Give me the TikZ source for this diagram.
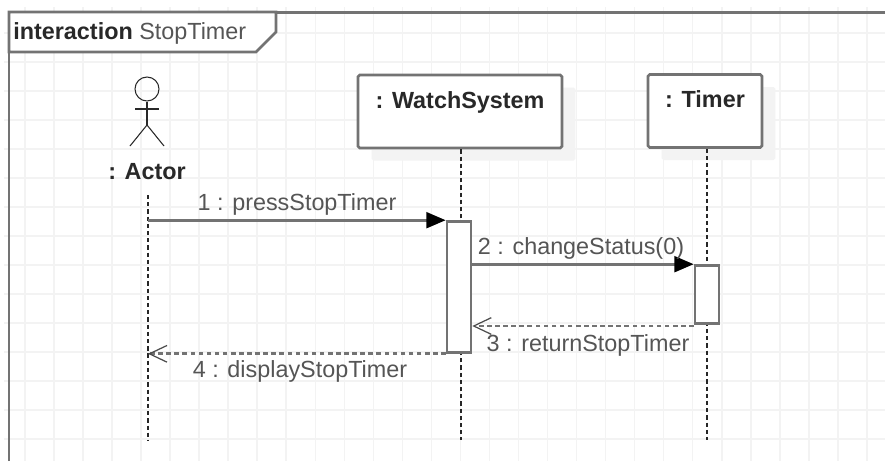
\documentclass[tikz,border=0pt]{standalone}
\usepackage{xcolor}
\usepackage{fontspec}
\setmainfont{Liberation Sans}
\definecolor{framegray}{RGB}{115, 115, 115}
\definecolor{gridgray}{RGB}{243, 243, 243}
\definecolor{shadowgray}{RGB}{243, 243, 243}
\definecolor{msggray}{RGB}{85, 85, 85}
\definecolor{titledark}{RGB}{40, 40, 40}
\usetikzlibrary{arrows.meta, positioning, shadows}

\begin{document}
\begin{tikzpicture}[
    x=0.02cm, y=-0.02cm,
    lifebox/.style={rectangle, draw=framegray, line width=1.5pt, fill=white, rounded corners=1pt, minimum height=1.46cm, align=center, font=\fontsize{13.3}{16}\selectfont\bfseries, text=titledark, general shadow={shadow xshift=0.27cm, shadow yshift=-0.25cm, fill=shadowgray}},
    actbar/.style={rectangle, draw=framegray, line width=1.5pt, fill=white, minimum width=0.48cm, inner sep=0pt},
    lifeline/.style={draw=black!85, line width=0.75pt, dash pattern=on 2.4pt off 1.7pt},
    callmsg/.style={draw=framegray, line width=1.5pt, -{Triangle[black, length=11pt, width=9pt]}},
    replymsg/.style={draw=framegray, line width=1.5pt, dash pattern=on 2.6pt off 2pt, -{Straight Barb[black!70, length=10pt, width=9.5pt, line width=0.7pt]}},
    msglabel/.style={font=\fontsize{13.3}{16}\selectfont, text=msggray, inner sep=0pt}
]
    \useasboundingbox (0,0) rectangle (885,461);
    \fill[white] (0,0) rectangle (885,461);

    % grid
    \foreach \gx in {0,...,29} {
        \draw[gridgray, line width=0.9pt] ({25+29.03*\gx},7) -- ({25+29.03*\gx},461);
    }
    \foreach \gy in {0,...,14} {
        \draw[gridgray, line width=0.9pt] (4,{33+29*\gy}) -- (885,{33+29*\gy});
    }

    % frame
    \draw[framegray, line width=1.7pt] (9,461) -- (9,12) -- (885,12);
    \draw[fill=white, draw=framegray, line width=1.6pt] (9,12) -- (276,12) -- (276,32) -- (256,52) -- (9,52) -- cycle;
    \node[anchor=west, inner sep=0pt, text=titledark, font=\fontsize{13.3}{16}\selectfont] (frametitle) at (13,33.5) {\textbf{interaction} \textcolor{msggray}{StopTimer}};

    % actor
    \node[draw=titledark, circle, line width=0.6pt, minimum size=0.48cm, inner sep=0pt] (head) at (147,89) {};
    \coordinate (hip) at (147,125);
    \draw[titledark, line width=0.6pt] (head.south) -- (hip);
    \draw[titledark, line width=0.6pt] (135,109) -- (159,109);
    \draw[titledark, line width=0.6pt] (130,146) -- (hip) -- (164,146);
    \node[font=\fontsize{13.3}{16}\selectfont\bfseries, text=titledark, inner sep=0pt] (actor) at (147,172) {: Actor};

    % lifelines
    \coordinate (actortop) at (148,195);
    \coordinate (actorend) at (148,440);
    \coordinate (watchend) at (461,440);
    \coordinate (timerend) at (707,440);
    \node[lifebox, minimum width=4.08cm] (watch) at (460,111.5) {: WatchSystem\\[-0.1cm]\mbox{}};
    \node[lifebox, minimum width=2.28cm] (timer) at (705,111) {: Timer\\[-0.1cm]\mbox{}};
    \draw[lifeline] (actortop) -- (actorend);
    \draw[lifeline] (watch.south -| watchend) -- (watchend);
    \draw[lifeline] (timer.south -| timerend) -- (timerend);

    % activations
    \node[actbar, minimum height=2.62cm] (watchbar) at (459,287) {};
    \node[actbar, minimum height=1.16cm] (timerbar) at (707,294.5) {};

    % messages
    \draw[callmsg] (actortop |- watchbar.north) -- (watchbar.north west);
    \draw[callmsg] (watchbar.east |- timerbar.north) -- (timerbar.north west);
    \coordinate (replyy) at (0,326);
    \draw[replymsg] (timerbar.west |- replyy) -- (watchbar.east |- replyy);
    \draw[replymsg] (watchbar.south west) -- (actortop |- watchbar.south);

    \node[msglabel] (press) at (297,204.5) {1 : pressStopTimer};
    \node[msglabel] (change) at (581,248.5) {2 : changeStatus(0)};
    \node[msglabel] (return) at (588,345) {3 : returnStopTimer};
    \node[msglabel] (display) at (300,371.5) {4 : displayStopTimer};
\end{tikzpicture}
\end{document}
